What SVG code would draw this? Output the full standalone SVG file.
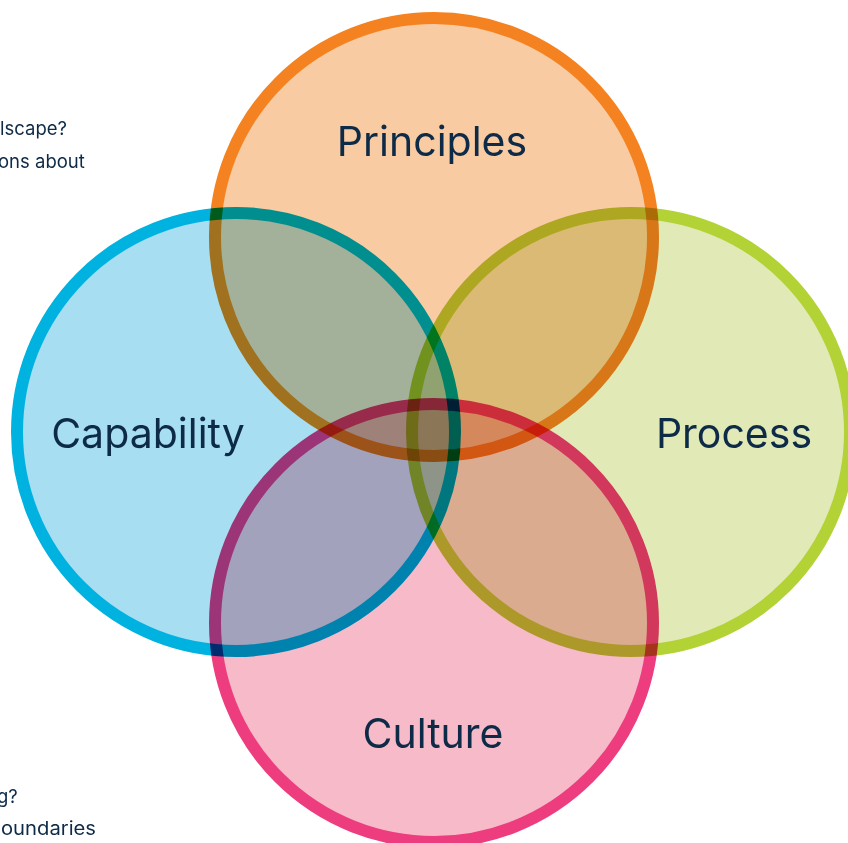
<svg xmlns="http://www.w3.org/2000/svg" width="848" height="843" viewBox="0 0 848 843">
  <style>
    .ring { stroke-width: 12; mix-blend-mode: multiply; }
    .label { font-family: Inter, "Liberation Sans", sans-serif; font-size: 41px; fill: #0d2a47; text-anchor: middle; }
    .note { font-family: Inter, "Liberation Sans", sans-serif; font-size: 18.5px; fill: #0d2a47; }
  </style>
  <rect width="848" height="843" fill="#ffffff"/>
  <g id="notes">
    <text class="note" x="0" y="135">lscape?</text>
    <text class="note" x="-2" y="168">ons about</text>
    <text class="note" x="-3" y="803">g?</text>
    <text class="note" x="1" y="835" textLength="95" lengthAdjust="spacingAndGlyphs">oundaries</text>
  </g>
  <g id="principles">
    <circle class="ring" cx="434" cy="237" r="219" fill="#f9cba3" stroke="#f58220"/>
  </g>
  <g id="capability">
    <circle class="ring" cx="236" cy="432" r="219" fill="#a7def1" stroke="#00b2e0"/>
  </g>
  <g id="process">
    <circle class="ring" cx="631" cy="432" r="219" fill="#e1eab7" stroke="#b2d235"/>
  </g>
  <g id="culture">
    <circle class="ring" cx="434" cy="623" r="219" fill="#f7bac8" stroke="#ee3d7e"/>
  </g>
  <g id="labels">
    <text class="label" x="432" y="156">Principles</text>
    <text class="label" x="148" y="448">Capability</text>
    <text class="label" x="734" y="448">Process</text>
    <text class="label" x="433" y="748">Culture</text>
  </g>
</svg>
